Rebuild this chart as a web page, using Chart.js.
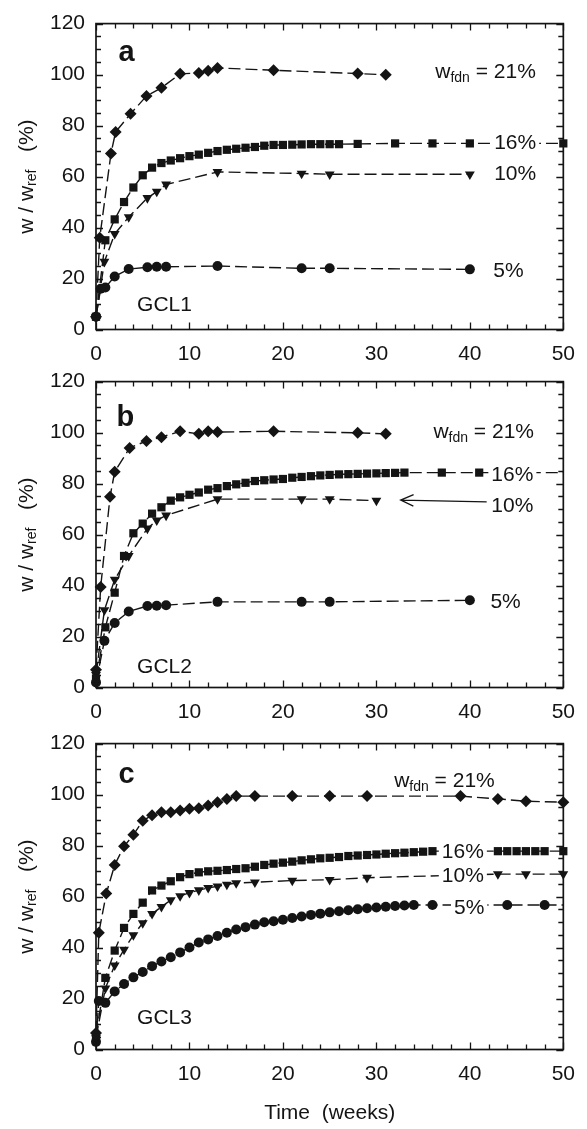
<!DOCTYPE html>
<html>
<head>
<meta charset="utf-8">
<script src="https://cdn.jsdelivr.net/npm/chart.js@4.4.1/dist/chart.umd.min.js"></script>
<style>
  html, body { margin: 0; padding: 0; background: #fff; }
  body { width: 587px; height: 1129px; position: relative; overflow: hidden; }
  canvas { position: absolute; left: 0; }
</style>
</head>
<body>
<canvas id="gcl1"></canvas>
<canvas id="gcl2"></canvas>
<canvas id="gcl3"></canvas>
<script>
// ---- axis ticks ----
const weekTicks = [0, 10, 20, 30, 40, 50];
const pctTicks = [0, 20, 40, 60, 80, 100, 120];

// foundation water content of each curve
const wfdnLabels = ['21%', '16%', '10%', '5%'];

// ---- GCL1 ----
const gcl1Weeks21 = [0, 0.4, 1.6, 2.1, 3.7, 5.4, 7, 9, 11, 12, 13, 19, 28, 31];
const gcl1W21 = [5, 36, 69, 77.5, 84.6, 91.6, 94.8, 100.3, 100.6, 101.5, 102.6, 101.7, 100.4, 99.9];
const gcl1Weeks16 = [0, 1, 2, 3, 4, 5, 6, 7, 8, 9, 10, 11, 12, 13, 14, 15, 16, 17, 18, 19, 20, 21, 22, 23, 24, 25, 26, 28, 32, 36, 40, 50];
const gcl1W16 = [5, 35, 43.2, 50, 55.7, 60.5, 63.5, 65.3, 66.3, 67.2, 68, 68.6, 69.3, 70, 70.5, 70.9, 71.3, 71.6, 72.1, 72.4, 72.4, 72.5, 72.6, 72.7, 72.7, 72.7, 72.7, 72.8, 73, 73, 73, 73];
const gcl1Weeks10 = [0, 0.9, 2, 3.5, 5.5, 6.5, 7.5, 13, 22, 25, 40];
const gcl1W10 = [5, 26.6, 37.5, 44.1, 51.6, 54.1, 56.9, 61.8, 61.2, 60.9, 60.9];
const gcl1Weeks5 = [0, 0.5, 1, 2, 3.5, 5.5, 6.5, 7.5, 13, 22, 25, 40];
const gcl1W5 = [5, 16, 16.5, 20.8, 23.7, 24.4, 24.6, 24.6, 24.9, 24, 24, 23.6];

// ---- GCL2 ----
const gcl2Weeks21 = [0, 0.5, 1.5, 2, 3.6, 5.4, 7, 9, 11, 12, 13, 19, 28, 31];
const gcl2W21 = [7, 39.4, 74.8, 84.6, 94, 96.7, 98.2, 100.5, 99.5, 100.5, 100.2, 100.5, 99.9, 99.5];
const gcl2Weeks16 = [0, 1, 2, 3, 4, 5, 6, 7, 8, 9, 10, 11, 12, 13, 14, 15, 16, 17, 18, 19, 20, 21, 22, 23, 24, 25, 26, 27, 28, 29, 30, 31, 32, 33, 37, 41, 50];
const gcl2W16 = [3.5, 23.6, 37.2, 51.6, 60.5, 64.3, 68.2, 70.7, 73.3, 74.6, 75.6, 76.5, 77.6, 78.2, 79.0, 79.7, 80.3, 81.0, 81.3, 81.6, 81.8, 82.3, 82.6, 82.9, 83.2, 83.4, 83.6, 83.7, 83.8, 83.9, 84.0, 84.1, 84.2, 84.3, 84.3, 84.3, 84.3];
const gcl2Weeks10 = [0, 0.9, 2, 3.5, 5.5, 6.5, 7.5, 13, 22, 25, 30];
const gcl2W10 = [5, 30.4, 42.3, 51.6, 62.4, 65.6, 67.5, 73.9, 73.9, 73.9, 73.3];
const gcl2Weeks5 = [0, 0.9, 2, 3.5, 5.5, 6.5, 7.5, 13, 22, 25, 40];
const gcl2W5 = [2, 18.3, 25.3, 29.8, 32, 32.1, 32.3, 33.6, 33.6, 33.6, 34.2];

// ---- GCL3 ----
const gcl3Weeks21 = [0, 0.3, 1.1, 2, 3, 4, 5, 6, 7, 8, 9, 10, 11, 12, 13, 14, 15, 17, 21, 25, 29, 39, 43, 46, 50];
const gcl3W21 = [6.5, 45.8, 61.2, 72.4, 79.7, 84.2, 89.7, 91.9, 93.1, 93.1, 93.8, 94.4, 94.6, 95.7, 97, 98.3, 99.4, 99.4, 99.4, 99.4, 99.4, 99.4, 98.3, 97.4, 97];
const gcl3Weeks16 = [0, 1, 2, 3, 4, 5, 6, 7, 8, 9, 10, 11, 12, 13, 14, 15, 16, 17, 18, 19, 20, 21, 22, 23, 24, 25, 26, 27, 28, 29, 30, 31, 32, 33, 34, 35, 36, 43, 44, 45, 46, 47, 48, 50];
const gcl3W16 = [5.5, 28.1, 38.8, 47.7, 53.2, 57.6, 62.4, 64.3, 66.0, 67.6, 68.8, 69.5, 69.9, 70.1, 70.4, 70.8, 71.1, 71.7, 72.4, 72.9, 73.3, 73.7, 74.2, 74.6, 75.0, 75.2, 75.5, 75.9, 76.1, 76.3, 76.5, 76.8, 77.0, 77.2, 77.4, 77.6, 77.8, 77.8, 77.8, 77.8, 77.8, 77.8, 77.8, 77.8];
const gcl3Weeks10 = [0, 1, 2, 3, 4, 5, 6, 7, 8, 9, 10, 11, 12, 13, 14, 15, 17, 21, 25, 29, 43, 46, 50];
const gcl3W10 = [4.5, 24.0, 33.0, 39.2, 44.9, 49.6, 53.2, 56.0, 58.6, 60.2, 61.5, 62.5, 63.4, 64.0, 64.7, 65.3, 65.6, 66.3, 66.6, 67.4, 68.8, 68.8, 68.8];
const gcl3Weeks5 = [0, 0.3, 1, 2, 3, 4, 5, 6, 7, 8, 9, 10, 11, 12, 13, 14, 15, 16, 17, 18, 19, 20, 21, 22, 23, 24, 25, 26, 27, 28, 29, 30, 31, 32, 33, 34, 36, 44, 48, 50];
const gcl3W5 = [3, 19, 18.3, 22.8, 25.7, 28.3, 30.4, 32.7, 34.5, 36.2, 38.1, 40.0, 42.0, 43.2, 44.5, 45.8, 47.1, 48.0, 49.0, 49.9, 50.3, 50.9, 51.6, 52.2, 52.8, 53.3, 53.8, 54.2, 54.6, 55.0, 55.4, 55.7, 56.0, 56.3, 56.5, 56.7, 56.7, 56.7, 56.7, 56.7];

// ---- drawing setup ----
const INK = '#141414';
const FAMILY = '"Liberation Sans", Arial, Helvetica, sans-serif';
const TEXT_PX = 21;
const SUB_PX = 14;
const PLOT_H = 312.5;

// marker shape for each foundation water content
const markers = [
  { pointStyle: 'rectRot', radius: 6 },
  { pointStyle: 'rect', radius: 5.8 },
  { pointStyle: 'triangle', radius: 5.7, rotation: 180 },
  { pointStyle: 'circle', radius: 5 }
];

const panels = [
  {
    id: 'gcl1', top: 0, height: 365, xTitle: false,
    weeks: [gcl1Weeks21, gcl1Weeks16, gcl1Weeks10, gcl1Weeks5],
    values: [gcl1W21, gcl1W16, gcl1W10, gcl1W5],
    openEnd: [false, false, false, false],
    letter: { text: 'a', t: 2.4, v: 105.3 },
    name: { text: 'GCL1', t: 4.4, v: 7.4 },
    labels: [
      { t: 36.3, v: 100.8, fdn: true },
      { t: 42.6, v: 73.0, clear: true },
      { t: 42.6, v: 60.8 },
      { t: 42.5, v: 22.8 }
    ]
  },
  {
    id: 'gcl2', top: 358, height: 365, xTitle: false,
    weeks: [gcl2Weeks21, gcl2Weeks16, gcl2Weeks10, gcl2Weeks5],
    values: [gcl2W21, gcl2W16, gcl2W10, gcl2W5],
    openEnd: [false, true, false, false],
    letter: { text: 'b', t: 2.2, v: 102.7 },
    name: { text: 'GCL2', t: 4.4, v: 5.5 },
    labels: [
      { t: 36.1, v: 100.2, fdn: true },
      { t: 42.3, v: 83.2, clear: true },
      { t: 42.3, v: 71.1 },
      { t: 42.2, v: 33.3 }
    ],
    arrow: { from: { t: 41.8, v: 72.8 }, to: { t: 32.6, v: 73.5 } }
  },
  {
    id: 'gcl3', top: 720, height: 409, xTitle: true,
    weeks: [gcl3Weeks21, gcl3Weeks16, gcl3Weeks10, gcl3Weeks5],
    values: [gcl3W21, gcl3W16, gcl3W10, gcl3W5],
    openEnd: [false, false, false, true],
    letter: { text: 'c', t: 2.4, v: 104.6 },
    name: { text: 'GCL3', t: 4.4, v: 10.0 },
    labels: [
      { t: 31.9, v: 105.3, fdn: true },
      { t: 37.0, v: 77.5, clear: true },
      { t: 37.0, v: 67.9, clear: true },
      { t: 38.3, v: 55.4, clear: true }
    ]
  }
];

// draw a run of text pieces (main / subscript) starting at x
function richWidth(ctx, parts) {
  let w = 0;
  for (const p of parts) {
    ctx.font = `${p.size}px ${FAMILY}`;
    w += ctx.measureText(p.text).width;
  }
  return w;
}
function drawRich(ctx, parts, x, y) {
  for (const p of parts) {
    ctx.font = `${p.size}px ${FAMILY}`;
    ctx.fillText(p.text, x, y + (p.dy || 0));
    x += ctx.measureText(p.text).width;
  }
  return x;
}

// closed frame with inward ticks on all four sides
const frameTicks = {
  id: 'frameTicks',
  beforeDatasetsDraw(chart) {
    const { ctx, chartArea: a, scales: { x, y } } = chart;
    ctx.save();
    ctx.strokeStyle = INK;
    ctx.lineWidth = 1.3;
    ctx.beginPath();
    for (let t = 0; t <= 50; t += 2) {
      const px = Math.round(x.getPixelForValue(t)) + 0.5;
      const len = t % 10 === 0 ? 7 : 5;
      ctx.moveTo(px, a.bottom); ctx.lineTo(px, a.bottom - len);
      ctx.moveTo(px, a.top); ctx.lineTo(px, a.top + len);
    }
    for (let v = 0; v <= 120; v += 5) {
      const py = Math.round(y.getPixelForValue(v)) + 0.5;
      const len = v % 20 === 0 ? 7 : 5;
      ctx.moveTo(a.left, py); ctx.lineTo(a.left + len, py);
      ctx.moveTo(a.right, py); ctx.lineTo(a.right - len, py);
    }
    ctx.stroke();
    ctx.lineWidth = 1.7;
    ctx.strokeRect(a.left, a.top, a.right - a.left, a.bottom - a.top);
    ctx.restore();
  }
};

// y-axis title with subscript, rotated
const yTitle = {
  id: 'yTitle',
  afterDraw(chart) {
    const { ctx, chartArea: a } = chart;
    const parts = [
      { text: 'w / w', size: TEXT_PX },
      { text: 'ref', size: SUB_PX, dy: 5 },
      { text: '   (%)', size: TEXT_PX }
    ];
    ctx.save();
    ctx.fillStyle = INK;
    ctx.textBaseline = 'middle';
    ctx.translate(27, (a.top + a.bottom) / 2);
    ctx.rotate(-Math.PI / 2);
    const w = richWidth(ctx, parts);
    drawRich(ctx, parts, -w / 2, 0);
    ctx.restore();
  }
};

// panel letter, GCL name, curve labels and pointer arrow
const notes = {
  id: 'notes',
  afterDatasetsDraw(chart, args, opts) {
    const p = opts.panel;
    const { ctx, scales: { x, y } } = chart;
    const X = t => x.getPixelForValue(t);
    const Y = v => y.getPixelForValue(v);
    ctx.save();
    ctx.fillStyle = INK;
    ctx.textAlign = 'left';

    ctx.textBaseline = 'alphabetic';
    ctx.font = `bold 29px ${FAMILY}`;
    ctx.fillText(p.letter.text, X(p.letter.t), Y(p.letter.v));
    ctx.font = `${TEXT_PX}px ${FAMILY}`;
    ctx.fillText(p.name.text, X(p.name.t), Y(p.name.v));

    ctx.textBaseline = 'middle';
    p.labels.forEach((lab, i) => {
      const parts = lab.fdn
        ? [{ text: 'w', size: TEXT_PX }, { text: 'fdn', size: SUB_PX, dy: 6 }, { text: ' = ' + wfdnLabels[i], size: TEXT_PX }]
        : [{ text: wfdnLabels[i], size: TEXT_PX }];
      const x0 = X(lab.t), y0 = Y(lab.v);
      if (lab.clear) {
        const w = richWidth(ctx, parts);
        ctx.fillStyle = '#fff';
        ctx.fillRect(x0 - 3, y0 - 10, w + 6, 20);
        ctx.fillStyle = INK;
      }
      drawRich(ctx, parts, x0, y0);
    });

    if (p.arrow) {
      const x1 = X(p.arrow.from.t), y1 = Y(p.arrow.from.v);
      const x2 = X(p.arrow.to.t), y2 = Y(p.arrow.to.v);
      const ang = Math.atan2(y1 - y2, x1 - x2);
      const head = 14, spread = 0.42;
      ctx.strokeStyle = INK;
      ctx.lineWidth = 1.3;
      ctx.beginPath();
      ctx.moveTo(x1, y1); ctx.lineTo(x2, y2);
      ctx.moveTo(x2 + head * Math.cos(ang - spread), y2 + head * Math.sin(ang - spread));
      ctx.lineTo(x2, y2);
      ctx.lineTo(x2 + head * Math.cos(ang + spread), y2 + head * Math.sin(ang + spread));
      ctx.stroke();
    }
    ctx.restore();
  }
};

function buildChart(p) {
  const canvas = document.getElementById(p.id);
  canvas.width = 587;
  canvas.height = p.height;
  canvas.style.top = p.top + 'px';
  const padTop = 17;
  const xAxisH = p.height - padTop - PLOT_H;

  const datasets = p.values.map((vals, i) => {
    const m = markers[i];
    const last = vals.length - 1;
    const open = p.openEnd[i];
    return {
      label: wfdnLabels[i],
      data: vals.map((v, k) => ({ x: p.weeks[i][k], y: v })),
      showLine: true,
      borderColor: INK,
      backgroundColor: INK,
      borderWidth: 1.4,
      borderDash: [12, 5],
      pointStyle: m.pointStyle,
      rotation: m.rotation || 0,
      pointRadius: ctx => (open && ctx.dataIndex === last) ? 0 : m.radius,
      pointBorderWidth: 0,
      pointBackgroundColor: INK,
      clip: false
    };
  });

  return new Chart(canvas, {
    type: 'scatter',
    data: { datasets },
    plugins: [frameTicks, yTitle, notes],
    options: {
      responsive: false,
      animation: false,
      events: [],
      layout: { padding: { top: padTop, right: 22, left: 0, bottom: 0 } },
      plugins: {
        legend: { display: false },
        tooltip: { enabled: false },
        notes: { panel: p }
      },
      scales: {
        x: {
          type: 'linear', min: 0, max: 50,
          border: { display: false },
          grid: { display: false, drawTicks: false },
          afterBuildTicks: s => { s.ticks = weekTicks.map(v => ({ value: v })); },
          afterFit: s => { s.height = xAxisH; },
          ticks: { color: INK, padding: 12, maxRotation: 0, font: { family: FAMILY, size: TEXT_PX } },
          title: {
            display: p.xTitle, text: 'Time  (weeks)', color: INK,
            font: { family: FAMILY, size: TEXT_PX }, padding: { top: 0, bottom: 3 }
          }
        },
        y: {
          type: 'linear', min: 0, max: 120,
          border: { display: false },
          grid: { display: false, drawTicks: false },
          afterBuildTicks: s => { s.ticks = pctTicks.map(v => ({ value: v })); },
          afterFit: s => { s.width = 96; },
          ticks: { color: INK, padding: 11, font: { family: FAMILY, size: TEXT_PX } }
        }
      }
    }
  });
}

panels.forEach(buildChart);
</script>
</body>
</html>
